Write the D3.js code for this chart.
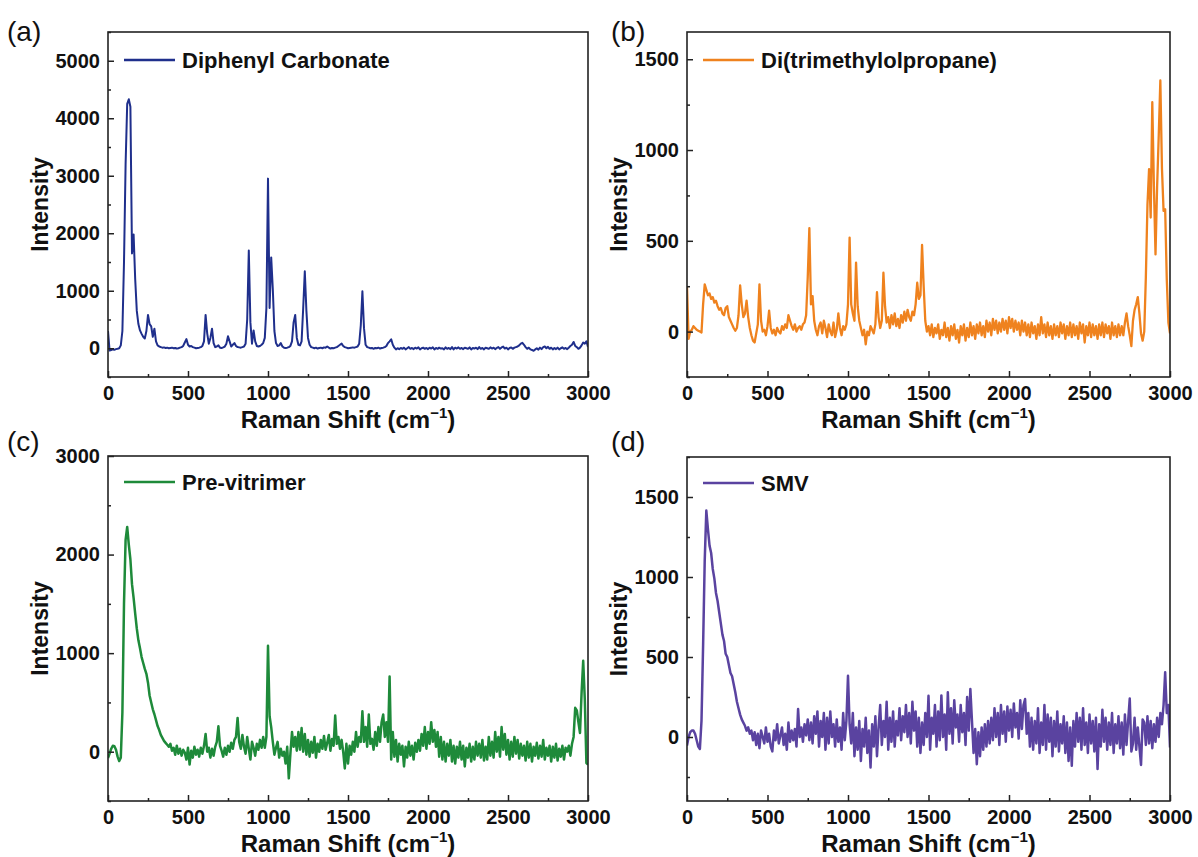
<!DOCTYPE html>
<html>
<head>
<meta charset="utf-8">
<script src="https://cdn.jsdelivr.net/npm/d3@7"></script>
<style>
  body { margin: 0; background: #fff; }
  text { font-family: "Liberation Sans", Arial, sans-serif; }
</style>
</head>
<body>
<div id="chart"></div>
<script>
// Raman shift grid (cm-1), one reading every 10 cm-1
var shift = d3.range(0, 3001, 10);

// (a) Diphenyl Carbonate, one row per 100 cm-1
var carbonate = [
  300,-40,-30,-20,-25,-15,-10,0,50,300,
  1500,3200,4250,4330,4200,1650,1980,1200,650,420,
  310,250,200,170,300,580,420,380,200,340,
  120,50,30,20,10,15,5,10,0,5,
  10,0,5,-5,0,10,20,40,100,160,
  60,30,40,20,10,0,5,10,20,40,
  120,580,260,80,180,340,90,20,30,50,
  10,5,15,30,80,210,120,30,60,90,
  40,20,15,10,20,30,80,500,1700,450,
  80,310,120,40,30,40,60,90,180,700,
  2950,700,1580,1030,300,90,40,50,90,30,
  10,5,10,20,40,120,450,580,180,60,
  50,120,700,1340,650,180,60,20,10,0,
  10,-5,5,10,0,15,10,30,10,-5,
  5,0,10,20,40,60,80,40,20,10,
  0,5,10,15,10,20,30,80,400,990,
  350,60,20,10,0,5,-10,5,0,10,
  -5,5,10,20,40,90,120,155,60,10,
  -20,0,-15,5,-10,10,-20,0,20,-10,
  5,-15,10,-5,15,-20,0,10,-10,5,
  -15,10,-5,15,-20,5,-10,10,-5,0,
  -20,15,-10,5,-15,20,-20,10,-5,15,
  -10,5,-15,10,0,-10,15,-20,5,-5,
  10,-15,20,-10,5,-20,10,0,-10,15,
  -5,10,-15,5,20,-10,15,30,-5,10,
  -20,5,15,-10,10,20,30,50,80,95,
  60,20,-10,10,-20,-30,-45,-20,0,-25,
  10,-15,20,30,0,25,-10,10,-20,5,
  -15,10,-20,0,15,-10,5,-15,10,40,
  60,110,40,20,-10,10,50,100,80,120,
  20
];

// (b) Di(trimethylolpropane)
var ditmp = [
  250,-40,0,10,30,20,10,5,0,-5,
  150,260,230,200,210,180,190,160,170,140,
  120,130,100,90,130,140,80,60,40,20,
  5,20,90,255,150,80,100,170,80,20,
  -20,-50,-60,-10,40,260,60,0,10,-20,
  30,115,20,-10,10,-20,20,0,-10,30,
  10,40,20,90,60,30,10,40,0,20,
  30,10,40,50,90,300,570,150,195,60,
  10,-20,30,50,-10,60,20,-30,40,0,
  -20,50,-30,10,100,20,-20,30,10,40,
  150,518,150,100,60,380,140,60,20,-20,
  10,-70,0,-20,30,10,-10,40,217,80,
  20,60,324,140,50,80,20,90,40,100,
  30,70,20,90,50,110,60,120,80,60,
  110,90,150,269,180,200,477,250,60,0,
  30,-20,40,-30,20,-10,40,-40,10,-20,
  50,-30,20,-50,30,-20,40,-40,10,-60,
  30,-20,40,-50,20,-30,50,-20,30,-40,
  40,-10,50,-20,30,-30,60,0,50,-20,
  70,10,60,-10,50,0,70,10,60,-10,
  80,20,70,0,60,10,50,-20,60,0,
  50,-20,40,-30,50,-10,30,-40,40,-20,
  80,-10,40,-30,50,-20,30,-40,40,-20,
  30,-30,50,-10,40,-40,30,-20,50,-30,
  40,-20,30,-40,50,-10,40,-60,30,-20,
  50,-30,40,-20,30,-40,40,-20,50,-30,
  40,-10,30,-40,50,-20,30,-30,40,-20,
  30,-20,50,100,30,-20,-80,60,120,150,
  190,100,-10,-50,0,300,700,895,628,1263,
  800,425,800,1079,1383,900,665,674,287,50,
  -10
];

// (c) Pre-vitrimer
var previtrimer = [
  -65,-20,30,60,55,20,-50,-95,-60,400,
  1500,2150,2280,2100,1950,1700,1560,1400,1250,1130,
  1050,960,900,840,790,700,570,500,430,380,
  320,260,220,170,140,110,90,70,50,80,
  10,40,-30,60,-20,30,-40,20,-10,-80,
  40,-130,10,-60,50,-30,20,-50,40,-20,
  60,180,0,40,-60,30,-40,50,100,258,
  60,10,-50,40,-30,60,0,90,30,120,
  150,343,100,30,170,50,-20,150,30,-80,
  100,40,-40,80,20,120,40,150,40,150,
  1075,360,250,100,-30,40,100,-60,30,-40,
  0,-120,50,-270,-20,200,50,150,10,200,
  20,240,0,180,-30,120,-50,100,-10,150,
  -60,80,0,120,30,160,20,90,170,10,
  130,60,367,80,150,30,120,0,-170,80,
  -120,60,-30,100,0,200,50,150,100,411,
  100,250,50,378,80,130,20,200,60,250,
  100,300,378,150,300,100,762,-80,200,-50,
  120,-100,80,-30,60,-150,50,-60,100,-40,
  60,-80,90,0,120,10,180,60,250,30,
  200,80,300,100,220,50,200,-50,150,-80,
  100,-100,80,-40,120,-100,60,-120,50,-60,
  100,-80,60,-150,40,-60,80,-100,50,-80,
  100,-40,80,-60,120,-90,50,-80,150,-40,
  100,-60,200,0,150,-50,250,20,180,-30,
  120,-80,100,-50,150,-20,120,-70,80,-40,
  60,-90,100,-60,80,-100,50,-40,90,-70,
  60,-50,120,-80,40,-40,60,-100,50,-60,
  80,-90,30,-50,60,-80,40,0,60,-40,
  80,150,445,420,300,190,600,922,530,-115,
  -130
];

// (d) SMV
var smv = [
  -54,0,30,40,40,20,-20,-60,-75,100,
  571,1100,1415,1300,1196,1150,1050,990,900,850,
  780,710,640,600,520,500,450,400,380,330,
  280,220,180,140,110,90,70,40,60,20,
  40,-20,30,-50,20,-70,40,0,-40,60,
  -30,20,-60,-90,40,-20,80,-40,10,60,
  -50,20,-80,90,-30,40,-20,50,-60,175,
  0,60,-30,80,10,110,-20,90,-40,130,
  20,160,-60,100,0,150,-80,120,-40,160,
  0,80,-60,110,-30,60,-80,150,-20,100,
  383,80,-40,150,-120,60,-80,100,-150,50,
  -60,120,-100,40,-190,80,-60,130,-120,60,
  200,-50,100,0,220,-80,120,-30,160,-60,
  100,10,180,-20,130,30,200,0,150,-40,
  220,40,160,-60,120,-100,90,-50,150,0,
  258,-80,120,20,200,-60,160,-20,260,0,
  140,-80,280,20,180,-40,230,60,140,-30,
  200,30,150,-50,250,40,300,100,-100,50,
  -170,30,-120,60,-80,80,-60,100,-40,120,
  -20,180,0,150,-50,200,20,160,-30,190,
  40,170,0,210,60,150,-10,230,50,200,
  237,20,150,-60,120,-80,100,-40,180,-100,
  90,-50,200,-80,140,-30,120,-120,100,-60,
  160,-90,80,-40,130,-100,90,-150,60,-179,
  100,-60,150,-30,120,-80,180,-50,90,-100,
  140,-40,100,-90,120,-200,80,-60,170,-30,
  120,-80,90,-50,150,-100,80,-40,130,-70,
  90,-110,140,-50,100,240,-90,-40,120,-80,
  60,-60,-175,110,90,-50,130,-40,100,-70,
  80,-30,120,0,150,80,200,404,150,200,
  -65
];

// tick labels
var xTicks = [0, 500, 1000, 1500, 2000, 2500, 3000];
var yTicksA = [0, 1000, 2000, 3000, 4000, 5000];
var yTicksB = [0, 500, 1000, 1500];
var yTicksC = [0, 1000, 2000, 3000];
var yTicksD = [0, 500, 1000, 1500];

var W = 1198, H = 857;

var panels = [
  {tag: "(a)", name: "Diphenyl Carbonate", values: carbonate, color: "#1f2f8c", lw: 2,
   x0: 108, x1: 588, y0: 32, y1: 377, yDomain: [-500, 5500], yTicks: yTicksA, tagX: 7, tagY: 41},
  {tag: "(b)", name: "Di(trimethylolpropane)", values: ditmp, color: "#ef821e", lw: 2.3,
   x0: 687, x1: 1170, y0: 32, y1: 377, yDomain: [-250, 1650], yTicks: yTicksB, tagX: 611, tagY: 41},
  {tag: "(c)", name: "Pre-vitrimer", values: previtrimer, color: "#1e8a3a", lw: 2.5,
   x0: 108, x1: 588, y0: 456, y1: 801, yDomain: [-500, 3000], yTicks: yTicksC, tagX: 7, tagY: 451},
  {tag: "(d)", name: "SMV", values: smv, color: "#5a43a0", lw: 2.5,
   x0: 687, x1: 1170, y0: 457, y1: 801, yDomain: [-400, 1750], yTicks: yTicksD, tagX: 611, tagY: 451}
];

var svg = d3.select("#chart").append("svg")
  .attr("width", W)
  .attr("height", H);

function minorTicks(major, domain) {
  var half = (major[1] - major[0]) / 2;
  var start = Math.ceil(domain[0] / half) * half;
  return d3.range(start, domain[1] + 0.1, half).filter(function(v) {
    return major.indexOf(v) < 0;
  });
}

panels.forEach(function(p, i) {
  var x = d3.scaleLinear().domain([0, 3000]).range([p.x0, p.x1]);
  var y = d3.scaleLinear().domain(p.yDomain).range([p.y1, p.y0]);
  var g = svg.append("g");

  // panel tag
  g.append("text")
    .attr("x", p.tagX).attr("y", p.tagY)
    .attr("font-size", 28)
    .attr("fill", "#111")
    .text(p.tag);

  g.append("clipPath").attr("id", "clip" + i)
    .append("rect")
      .attr("x", p.x0).attr("y", p.y0)
      .attr("width", p.x1 - p.x0).attr("height", p.y1 - p.y0);

  // spectrum
  var pts = shift.map(function(s, k) { return [s, p.values[k]]; });
  g.append("path")
    .datum(pts)
    .attr("clip-path", "url(#clip" + i + ")")
    .attr("fill", "none")
    .attr("stroke", p.color)
    .attr("stroke-width", p.lw)
    .attr("stroke-linejoin", "round")
    .attr("d", d3.line()
      .x(function(d) { return x(d[0]); })
      .y(function(d) { return y(d[1]); }));

  // axes, ticks pointing inwards
  g.append("g")
    .attr("transform", "translate(0," + p.y1 + ")")
    .call(d3.axisBottom(x).tickValues(xTicks).tickFormat(d3.format("d")).tickSize(-6).tickPadding(9));
  g.append("g")
    .attr("transform", "translate(0," + p.y1 + ")")
    .call(d3.axisBottom(x).tickValues(minorTicks(xTicks, [0, 3000])).tickSize(-3).tickFormat(""));
  g.append("g")
    .attr("transform", "translate(" + p.x0 + ",0)")
    .call(d3.axisLeft(y).tickValues(p.yTicks).tickFormat(d3.format("d")).tickSize(-6).tickPadding(8));
  g.append("g")
    .attr("transform", "translate(" + p.x0 + ",0)")
    .call(d3.axisLeft(y).tickValues(minorTicks(p.yTicks, p.yDomain)).tickSize(-3).tickFormat(""));

  g.selectAll(".domain").remove();
  g.selectAll(".tick line").attr("stroke", "#222").attr("stroke-width", 1.5);
  g.selectAll(".tick text")
    .attr("font-family", "Liberation Sans, Arial, sans-serif")
    .attr("font-size", 20)
    .attr("font-weight", "bold")
    .attr("fill", "#111");

  // frame
  g.append("rect")
    .attr("x", p.x0).attr("y", p.y0)
    .attr("width", p.x1 - p.x0).attr("height", p.y1 - p.y0)
    .attr("fill", "none")
    .attr("stroke", "#222")
    .attr("stroke-width", 1.6);

  // axis titles
  var xt = g.append("text")
    .attr("x", (p.x0 + p.x1) / 2).attr("y", p.y1 + 51)
    .attr("text-anchor", "middle")
    .attr("font-size", 24)
    .attr("font-weight", "bold")
    .attr("fill", "#111");
  xt.append("tspan").text("Raman Shift (cm");
  xt.append("tspan").attr("font-size", 15).attr("dy", -10).text("\u22121");
  xt.append("tspan").attr("dy", 10).text(")");

  g.append("text")
    .attr("transform", "translate(" + (p.x0 - 60) + "," + ((p.y0 + p.y1) / 2) + ") rotate(-90)")
    .attr("text-anchor", "middle")
    .attr("font-size", 23)
    .attr("font-weight", "bold")
    .attr("fill", "#111")
    .text("Intensity");

  // legend
  var ly = i < 2 ? p.y0 + 28 : p.y0 + 26;
  g.append("line")
    .attr("x1", p.x0 + 16).attr("x2", p.x0 + 67)
    .attr("y1", ly).attr("y2", ly)
    .attr("stroke", p.color)
    .attr("stroke-width", 2.4);
  g.append("text")
    .attr("x", p.x0 + 74).attr("y", ly + 8)
    .attr("font-size", 22)
    .attr("font-weight", "bold")
    .attr("fill", "#111")
    .text(p.name);
});
</script>
</body>
</html>
